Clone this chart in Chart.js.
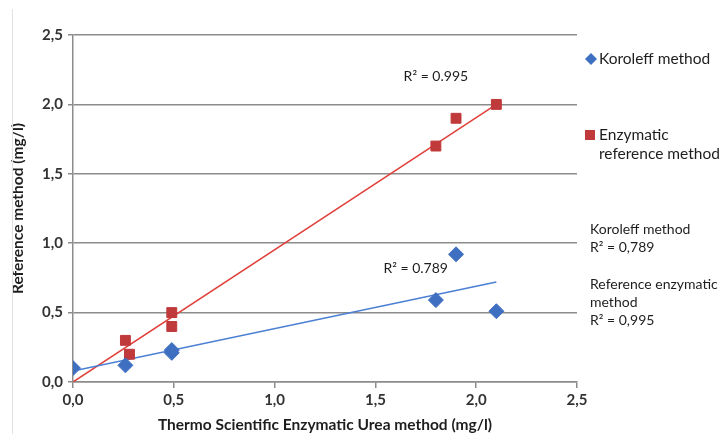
<!DOCTYPE html>
<html>
<head>
<meta charset="utf-8">
<script src="https://cdn.jsdelivr.net/npm/chart.js@4/dist/chart.umd.min.js"></script>
<style>
  html, body { margin: 0; padding: 0; background: #fff; }
  #caixa { width: 723px; height: 434px; position: relative; }
</style>
</head>
<body>
<div id="caixa"><canvas id="grafico" width="723" height="434"></canvas></div>
<script>
// Valores
const koroleffX = [0.00, 0.26, 0.49, 0.49, 1.80, 1.90, 2.10];
const koroleffY = [0.10, 0.12, 0.21, 0.23, 0.59, 0.92, 0.51];
const enzimaticoX = [0.26, 0.28, 0.49, 0.49, 1.80, 1.90, 2.10];
const enzimaticoY = [0.30, 0.20, 0.50, 0.40, 1.70, 1.90, 2.00];

// Linhas de tendencia (extremos)
const tendKoroleffX = [0.00, 2.10];
const tendKoroleffY = [0.08, 0.72];
const tendEnzimaticoX = [0.00, 2.10];
const tendEnzimaticoY = [0.00, 2.00];

const ticksEixo = [0, 0.5, 1.0, 1.5, 2.0, 2.5];

const azul = '#3f6fc1';
const vermelho = '#c0393b';
const fonte = 'Lato, "Open Sans", sans-serif';

function pontos(xs, ys) {
    return xs.map((x, i) => ({ x: x, y: ys[i] }));
}

function virgula(v) {
    return Number(v).toFixed(1).replace('.', ',');
}

// Textos extra: legenda, R² e moldura
const textosExtra = {
    id: 'textosExtra',
    afterDraw(chart) {
        const ctx = chart.ctx;
        const sx = chart.scales.x, sy = chart.scales.y;
        ctx.save();

        // moldura fina a esquerda
        ctx.strokeStyle = '#e2e2e2';
        ctx.lineWidth = 1;
        ctx.beginPath();
        ctx.moveTo(12.5, 9);
        ctx.lineTo(12.5, 434);
        ctx.stroke();

        ctx.fillStyle = '#1e1e1e';
        ctx.textBaseline = 'middle';

        // R² junto das linhas
        ctx.font = '14px ' + fonte;
        ctx.textAlign = 'center';
        ctx.fillText('R² = 0.995', sx.getPixelForValue(1.80), sy.getPixelForValue(2.20));
        ctx.fillText('R² = 0.789', sx.getPixelForValue(1.70), sy.getPixelForValue(0.82));

        // legenda
        ctx.textAlign = 'left';
        ctx.font = '15.5px ' + fonte;
        ctx.fillStyle = azul;
        ctx.beginPath();
        ctx.moveTo(591, 53); ctx.lineTo(597, 59); ctx.lineTo(591, 65); ctx.lineTo(585, 59);
        ctx.closePath();
        ctx.fill();
        ctx.fillStyle = vermelho;
        ctx.fillRect(585, 130, 10, 10);
        ctx.fillStyle = '#1e1e1e';
        ctx.fillText('Koroleff method', 599, 59);
        ctx.fillText('Enzymatic', 599, 135);
        ctx.fillText('reference method', 599, 154);

        // notas de R²
        ctx.font = '14px ' + fonte;
        ctx.fillText('Koroleff method', 590, 229);
        ctx.fillText('R² = 0,789', 590, 247);
        ctx.fillText('Reference enzymatic', 590, 284);
        ctx.fillText('method', 590, 302);
        ctx.fillText('R² = 0,995', 590, 320);

        ctx.restore();
    }
};

const config = {
    type: 'scatter',
    data: {
        datasets: [
            {
                label: 'Koroleff method',
                data: pontos(koroleffX, koroleffY),
                backgroundColor: azul,
                borderColor: azul,
                pointStyle: 'rectRot',
                pointRadius: 7.5,
                order: 0
            },
            {
                label: 'Enzymatic reference method',
                data: pontos(enzimaticoX, enzimaticoY),
                backgroundColor: vermelho,
                borderColor: vermelho,
                pointStyle: 'rect',
                pointRadius: 7,
                order: 0
            },
            {
                label: 'tend Koroleff',
                data: pontos(tendKoroleffX, tendKoroleffY),
                showLine: true,
                borderColor: '#4a7fd4',
                borderWidth: 1.5,
                pointRadius: 0,
                order: 1
            },
            {
                label: 'tend Enzimatico',
                data: pontos(tendEnzimaticoX, tendEnzimaticoY),
                showLine: true,
                borderColor: '#e0403a',
                borderWidth: 1.5,
                pointRadius: 0,
                order: 1
            }
        ]
    },
    options: {
        responsive: false,
        animation: false,
        layout: { padding: { left: 0, right: 146, top: 35, bottom: 0 } },
        plugins: {
            legend: { display: false },
            tooltip: { enabled: false }
        },
        scales: {
            x: {
                type: 'linear',
                min: 0,
                max: 2.5,
                afterFit(s) { s.height = 52; },
                afterBuildTicks(s) { s.ticks = ticksEixo.map(v => ({ value: v })); },
                grid: {
                    drawOnChartArea: false,
                    drawTicks: true,
                    tickLength: 6,
                    color: '#8c8c8c',
                    lineWidth: 1.5
                },
                border: { color: '#8c8c8c', width: 1.5 },
                ticks: {
                    padding: 3,
                    color: '#333333',
                    font: { family: fonte, size: 15, weight: 'bold' },
                    callback: v => virgula(v)
                },
                title: {
                    display: true,
                    text: 'Thermo Scientific Enzymatic Urea method (mg/l)',
                    color: '#1e1e1e',
                    font: { family: fonte, size: 15.5, weight: 'bold' },
                    padding: { top: 0, bottom: 0 }
                }
            },
            y: {
                type: 'linear',
                min: 0,
                max: 2.5,
                afterFit(s) { s.width = 73; },
                afterBuildTicks(s) { s.ticks = ticksEixo.map(v => ({ value: v })); },
                grid: {
                    drawTicks: true,
                    tickLength: 5,
                    color: '#8c8c8c',
                    lineWidth: 1.5
                },
                border: { color: '#8c8c8c', width: 1.5 },
                ticks: {
                    padding: 5,
                    color: '#333333',
                    font: { family: fonte, size: 15, weight: 'bold' },
                    callback: v => virgula(v)
                },
                title: {
                    display: true,
                    text: 'Reference method (mg/l)',
                    color: '#1e1e1e',
                    font: { family: fonte, size: 15.5, weight: 'bold' },
                    padding: { top: 9, bottom: 0 }
                }
            }
        }
    },
    plugins: [textosExtra]
};

const ctx = document.getElementById('grafico').getContext('2d');
new Chart(ctx, config);
</script>
</body>
</html>
